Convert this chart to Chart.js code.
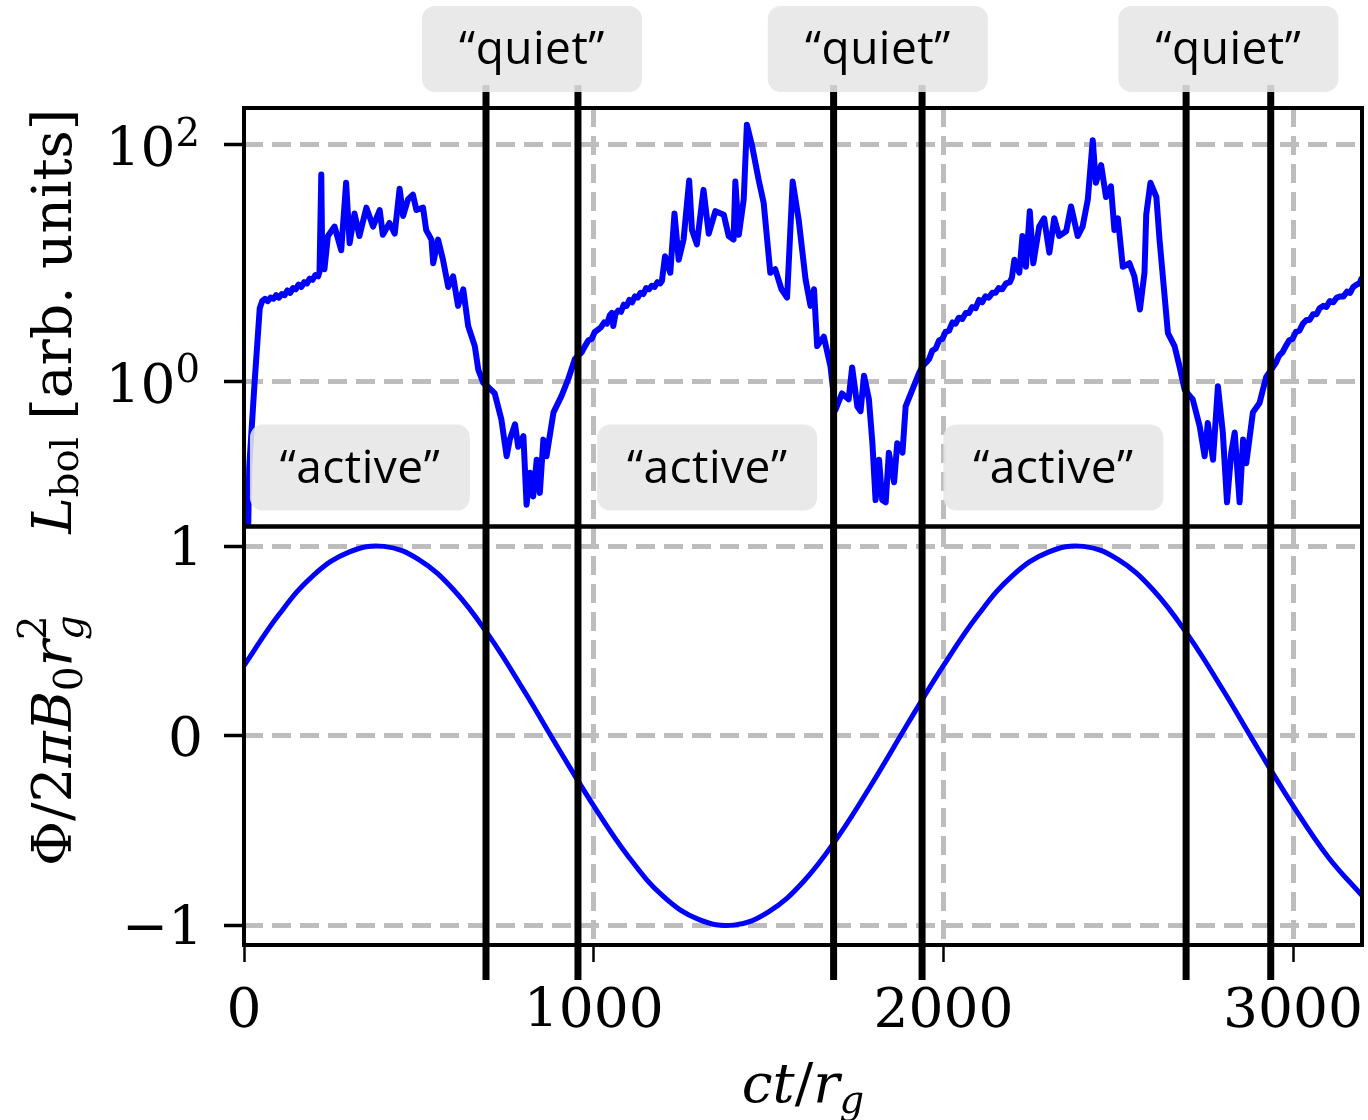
<!DOCTYPE html>
<html>
<head>
<meta charset="utf-8">
<script src="https://cdn.jsdelivr.net/npm/chart.js@4.4.1/dist/chart.umd.min.js"></script>
<style>
  html, body { margin: 0; padding: 0; background: #fff; }
  #wrap { width: 1368px; height: 1120px; }
</style>
</head>
<body>
<div id="wrap"><canvas id="chart" width="1368" height="1120"></canvas></div>
<script>
// bolometric luminosity, sampled along ct/r_g (values stored as log10 L)
const lumTimes = [
  12, 15, 30, 45,
  52, 60, 68, 76, 84, 92, 100, 108, 116, 124,
  132, 140, 148, 156, 164, 172, 180, 188, 196, 204,
  212, 216,
  221, 224, 230, 240, 259, 278, 292, 302, 316, 330,
  350, 369, 388, 397, 416, 431, 445, 455, 469, 483,
  493, 512, 521, 536, 541, 555, 569, 584, 598, 612,
  627, 641, 660, 670, 684, 700, 717, 736, 751, 760,
  775, 784, 799, 808, 818, 827, 837, 846, 856, 865,
  885, 908, 927, 946,
  966, 975, 985, 994, 1003, 1013, 1021, 1030, 1038, 1046,
  1052, 1056, 1062, 1070, 1078, 1086, 1094, 1102, 1110, 1118,
  1126, 1134, 1142, 1150, 1158, 1166, 1174, 1182, 1190, 1195,
  1204, 1219, 1231, 1243, 1257, 1273, 1281, 1295, 1314, 1329,
  1348, 1372, 1386, 1400, 1405, 1415, 1429, 1438, 1453, 1472,
  1486, 1505, 1519, 1537, 1553, 1569, 1586, 1606, 1620, 1630,
  1639, 1658, 1677, 1691, 1710, 1729, 1739, 1754, 1763, 1773,
  1787, 1797, 1806, 1816, 1825, 1835, 1844, 1859, 1868, 1883,
  1892, 1911,
  1930, 1940, 1950, 1959, 1968, 1978, 1988, 1997, 2006, 2016,
  2026, 2035, 2044, 2054, 2064, 2073, 2082, 2092, 2102, 2111,
  2120, 2130, 2140, 2149, 2158, 2168, 2179, 2190, 2196, 2203,
  2217, 2226, 2236, 2247, 2257, 2274, 2288, 2303, 2317, 2331,
  2351, 2365, 2384, 2398, 2413, 2427, 2436, 2451, 2465, 2479,
  2489, 2499, 2513, 2532, 2546, 2562, 2575, 2580, 2592, 2609,
  2618, 2642, 2661, 2675, 2690, 2713, 2733, 2747, 2756, 2771,
  2785, 2799, 2811, 2823, 2833, 2847, 2857, 2866, 2885, 2904,
  2923,
  2951, 2960, 2970, 2979, 2989, 2998, 3008, 3018, 3028, 3038,
  3047, 3057, 3067, 3076, 3086, 3095, 3105, 3115, 3125, 3135,
  3144, 3154, 3163, 3172, 3182, 3190, 3197
];
const lumLog = [
  -1.22, -0.72, -0.02, 0.62,
  0.68, 0.70, 0.68, 0.71, 0.70, 0.73, 0.71, 0.74, 0.73, 0.77,
  0.75, 0.79, 0.78, 0.82, 0.80, 0.84, 0.83, 0.87, 0.86, 0.90,
  0.89, 0.93,
  1.75, 0.96, 0.95, 1.23, 1.31, 1.11, 1.68, 1.17, 1.42, 1.23,
  1.47, 1.31, 1.45, 1.24, 1.34, 1.25, 1.63, 1.40, 1.54, 1.58,
  1.45, 1.47, 1.28, 1.20, 1.00, 1.20, 1.03, 0.80, 0.89, 0.64,
  0.78, 0.47, 0.30, 0.10, -0.01, -0.05, -0.10, -0.32, -0.63, -0.49,
  -0.36, -0.55, -0.46, -1.04, -0.77, -0.97, -0.66, -0.94, -0.49, -0.63,
  -0.26, -0.12, 0.02, 0.19,
  0.25, 0.30, 0.35, 0.36, 0.42, 0.44, 0.46, 0.50, 0.49, 0.56,
  0.58, 0.47, 0.57, 0.60, 0.59, 0.65, 0.64, 0.69, 0.67, 0.72,
  0.71, 0.75, 0.74, 0.79, 0.78, 0.81, 0.80, 0.84, 0.83, 0.85,
  1.06, 0.92, 1.42, 1.03, 1.20, 1.70, 1.28, 1.16, 1.62, 1.25,
  1.44, 1.41, 1.23, 1.20, 1.69, 1.24, 1.54, 2.17, 1.99, 1.70,
  1.51, 0.92, 0.95, 0.78, 0.71, 1.69, 1.37, 0.86, 0.64, 0.78,
  0.30, 0.38, 0.13, -0.24, -0.10, -0.15, 0.12, -0.21, -0.25, 0.05,
  -0.15, -0.52, -1.00, -0.66, -1.00, -1.02, -0.60, -0.85, -0.52, -0.60,
  -0.21, -0.07,
  0.07, 0.13, 0.16, 0.19, 0.26, 0.28, 0.35, 0.36, 0.42, 0.43,
  0.50, 0.49, 0.54, 0.53, 0.58, 0.58, 0.63, 0.62, 0.69, 0.67,
  0.72, 0.71, 0.75, 0.75, 0.79, 0.78, 0.83, 0.84, 0.88, 1.03,
  0.92, 1.23, 0.97, 1.44, 1.00, 1.31, 1.38, 1.09, 1.38, 1.23,
  1.27, 1.48, 1.23, 1.31, 1.54, 2.04, 1.68, 1.83, 1.56, 1.65,
  1.28, 1.38, 0.97, 1.00, 0.89, 0.61, 0.92, 1.41, 1.68, 1.56,
  1.20, 0.41, 0.30, 0.13, -0.07, -0.15, -0.38, -0.63, -0.35, -0.66,
  -0.04, -0.43, -1.02, -0.60, -0.43, -1.02, -0.49, -0.69, -0.26, -0.18,
  0.04,
  0.16, 0.22, 0.25, 0.30, 0.35, 0.36, 0.42, 0.43, 0.49, 0.52,
  0.52, 0.57, 0.57, 0.62, 0.64, 0.63, 0.68, 0.67, 0.71, 0.72,
  0.72, 0.76, 0.75, 0.80, 0.82, 0.83, 0.88
];

// magnetic flux through the horizon
const phiTimes = [
  0, 100, 200, 300, 400, 500, 600, 700, 800, 900, 1000,
  1100, 1200, 1300, 1400, 1500, 1600, 1700, 1800, 1900, 2000,
  2100, 2200, 2300, 2400, 2500, 2600, 2700, 2800, 2900, 3000,
  3100, 3200
];
const phiValues = [
  0.37, 0.64, 0.85, 0.97, 1.00, 0.93, 0.77, 0.53, 0.24, -0.07, -0.37,
  -0.64, -0.85, -0.97, -1.00, -0.93, -0.77, -0.53, -0.24, 0.07, 0.37,
  0.64, 0.85, 0.97, 1.00, 0.93, 0.77, 0.53, 0.24, -0.07, -0.37,
  -0.64, -0.85
];

// start / end of each quiet window
const quietStart = [692, 1686, 2694];
const quietEnd = [955, 1939, 2936];
// left edge of each "active" tag
const activeTagAt = [17, 1010, 2000];

const xTicks = [0, 1000, 2000, 3000];
const lumTicks = [1, 100];
const phiTicks = [-1, 0, 1];

const SERIF = "'DejaVu Serif', serif";
const FS = 55;
const GRID_GRAY = '#bdbdbd';

function serifFont(size, italic) {
  return (italic ? 'italic ' : '') + size.toFixed(1) + 'px ' + SERIF;
}

// draws a run of math-ish text pieces on a baseline
function drawMath(ctx, runs, size, x, y, align) {
  let w = 0;
  runs.forEach(r => {
    ctx.font = serifFont(size * (r.s || 1), r.it);
    if (!r.stay) w += ctx.measureText(r.t).width;
  });
  let cx = x;
  if (align === 'center') cx = x - w / 2;
  if (align === 'right') cx = x - w;
  ctx.textAlign = 'left';
  ctx.textBaseline = 'alphabetic';
  runs.forEach(r => {
    ctx.font = serifFont(size * (r.s || 1), r.it);
    ctx.fillText(r.t, cx, y + (r.dy || 0) * size);
    if (!r.stay) cx += ctx.measureText(r.t).width;
  });
}

function tag(ctx, text, left, top) {
  ctx.save();
  ctx.fillStyle = 'rgba(230,230,230,0.88)';
  ctx.beginPath();
  ctx.roundRect(left, top, 220, 86, 13);
  ctx.fill();
  ctx.fillStyle = '#000';
  ctx.font = "46px 'Open Sans'";
  ctx.letterSpacing = '0.5px';
  ctx.textAlign = 'center';
  ctx.textBaseline = 'alphabetic';
  ctx.fillText(text, left + 110, top + 58);
  ctx.restore();
}

const decor = {
  id: 'decor',
  beforeDraw(chart) {
    const ctx = chart.ctx;
    ctx.save();
    ctx.fillStyle = '#fff';
    ctx.fillRect(0, 0, chart.width, chart.height);
    ctx.restore();
  },
  afterDatasetsDraw(chart) {
    const ctx = chart.ctx;
    const area = chart.chartArea;
    const x = chart.scales.x;
    const yL = chart.scales.yLum;
    const yP = chart.scales.yPhi;

    ctx.save();
    // panel frames
    ctx.strokeStyle = '#000';
    ctx.lineWidth = 4;
    [yL, yP].forEach(s => ctx.strokeRect(area.left, s.top, area.right - area.left, s.bottom - s.top));

    // quiet window boundaries
    ctx.lineWidth = 7;
    quietStart.concat(quietEnd).forEach(t => {
      const px = x.getPixelForValue(t);
      ctx.beginPath();
      ctx.moveTo(px, area.top - 23);
      ctx.lineTo(px, area.bottom + 35);
      ctx.stroke();
    });

    // tags
    quietStart.forEach((t, i) => {
      const mid = (x.getPixelForValue(t) + x.getPixelForValue(quietEnd[i])) / 2;
      tag(ctx, '\u201Cquiet\u201D', mid - 110, area.top - 102);
    });
    activeTagAt.forEach(t => {
      tag(ctx, '\u201Cactive\u201D', x.getPixelForValue(t), yL.bottom - 102);
    });

    // tick labels
    ctx.fillStyle = '#000';
    lumTicks.forEach(v => {
      const py = yL.getPixelForValue(v);
      drawMath(ctx, [{t: '10'}, {t: String(Math.round(Math.log10(v))), s: 0.7, dy: -0.37}], FS, 200, py + 21, 'right');
    });
    phiTicks.forEach(v => {
      const py = yP.getPixelForValue(v);
      const label = v < 0 ? '\u2212' + Math.abs(v) : String(v);
      drawMath(ctx, [{t: label}], FS, 203, py + 20, 'right');
    });
    xTicks.forEach(v => {
      drawMath(ctx, [{t: String(v)}], FS, x.getPixelForValue(v), 1027, 'center');
    });

    // axis titles
    drawMath(ctx, [{t: 'ct', it: true}, {t: '/'}, {t: 'r', it: true}, {t: 'g', it: true, s: 0.7, dy: 0.2}],
      FS, (area.left + area.right) / 2, 1102, 'center');

    ctx.save();
    ctx.translate(71, (yL.top + yL.bottom) / 2 + 4);
    ctx.rotate(-Math.PI / 2);
    drawMath(ctx, [{t: 'L', it: true}, {t: 'bol', s: 0.7, dy: 0.12}, {t: ' [arb. units]'}], FS, 0, 0, 'center');
    ctx.restore();

    ctx.save();
    ctx.translate(71, (yP.top + yP.bottom) / 2 + 5);
    ctx.rotate(-Math.PI / 2);
    drawMath(ctx, [
      {t: '\u03A6/2'}, {t: '\u03C0B', it: true}, {t: '0', s: 0.7, dy: 0.2},
      {t: 'r', it: true}, {t: '2', s: 0.7, dy: -0.45, stay: true}, {t: 'g', it: true, s: 0.7, dy: 0.22}
    ], FS, 0, 0, 'center');
    ctx.restore();

    ctx.restore();
  }
};

const gridDash = [19, 9];

new Chart(document.getElementById('chart'), {
  type: 'line',
  data: {
    datasets: [
      {
        data: lumTimes.map((t, i) => ({x: t, y: Math.pow(10, lumLog[i])})),
        yAxisID: 'yLum',
        borderColor: '#0000ff',
        borderWidth: 6,
        borderJoinStyle: 'round',
        pointRadius: 0,
        tension: 0
      },
      {
        data: phiTimes.map((t, i) => ({x: t, y: phiValues[i]})),
        yAxisID: 'yPhi',
        borderColor: '#0000ff',
        borderWidth: 5,
        pointRadius: 0,
        tension: 0.4
      }
    ]
  },
  options: {
    responsive: false,
    animation: false,
    devicePixelRatio: 1,
    layout: { padding: { top: 108, right: 6, bottom: 0, left: 0 } },
    plugins: { legend: { display: false }, tooltip: { enabled: false } },
    scales: {
      x: {
        type: 'linear',
        min: 0,
        max: 3197,
        bounds: 'data',
        afterBuildTicks: s => { s.ticks = xTicks.map(v => ({value: v})); },
        afterFit: s => { s.height = 175; },
        ticks: { display: false },
        grid: {
          color: c => (c.tick && c.tick.value === 0 ? 'rgba(0,0,0,0)' : GRID_GRAY),
          lineWidth: 5,
          tickColor: '#000',
          tickWidth: 2.5,
          tickLength: 17,
          tickBorderDash: []
        },
        border: { display: false, dash: gridDash }
      },
      // stacked panels are laid out bottom-up, so the flux panel comes first
      yPhi: {
        type: 'linear',
        position: 'left',
        stack: 'panels',
        stackWeight: 1,
        min: -1.105,
        max: 1.105,
        bounds: 'data',
        afterBuildTicks: s => { s.ticks = phiTicks.map(v => ({value: v})); },
        afterFit: s => { s.width = 244; },
        ticks: { display: false },
        grid: { color: GRID_GRAY, lineWidth: 5, tickColor: '#000', tickWidth: 3.5, tickLength: 20, tickBorderDash: [] },
        border: { display: false, dash: gridDash }
      },
      yLum: {
        type: 'logarithmic',
        position: 'left',
        stack: 'panels',
        stackWeight: 1,
        min: 0.0597,
        max: 205,
        bounds: 'data',
        afterBuildTicks: s => { s.ticks = lumTicks.map(v => ({value: v})); },
        afterFit: s => { s.width = 244; },
        ticks: { display: false },
        grid: { color: GRID_GRAY, lineWidth: 5, tickColor: '#000', tickWidth: 3.5, tickLength: 20, tickBorderDash: [] },
        border: { display: false, dash: gridDash }
      }
    }
  },
  plugins: [decor]
});
</script>
</body>
</html>
